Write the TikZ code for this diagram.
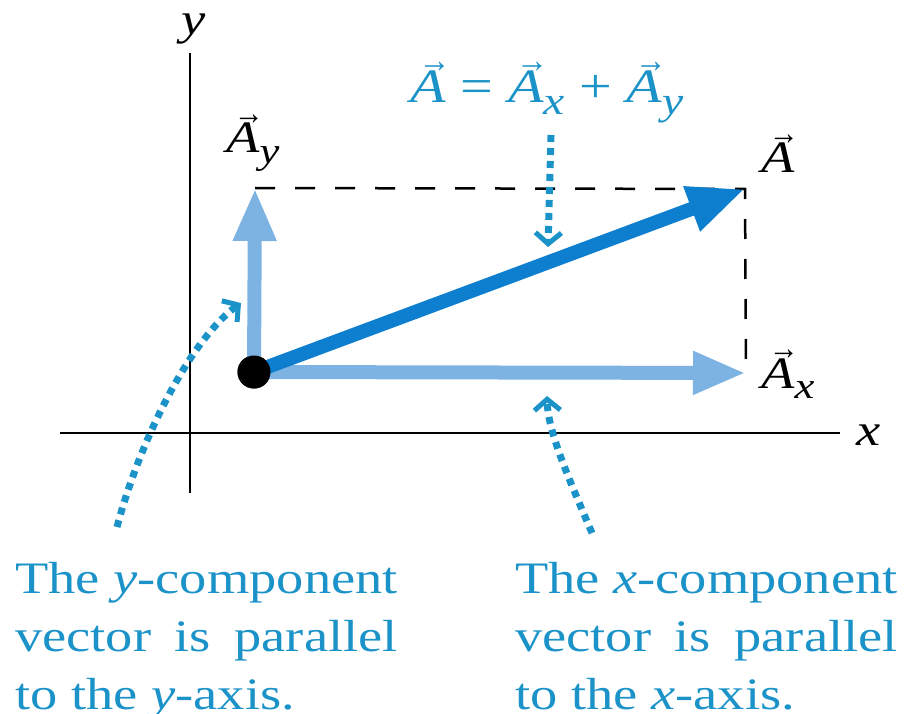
\documentclass[tikz,border=0pt]{standalone}
\usepackage{graphicx}
\usepackage{fontspec}
\setmainfont[FakeStretch=1.21]{Liberation Serif}
\usetikzlibrary{arrows.meta}
\definecolor{lblue}{HTML}{7DB3E3}
\definecolor{dblue}{HTML}{0E7FCF}
\definecolor{tblue}{HTML}{1B93C9}
\newcommand\vv[1]{\makebox[0pt][l]{\hspace{0.17em}\raisebox{0.64em}{\scalebox{0.55}[0.75]{→}}}\textit{#1}}
\newcommand\sub[1]{\raisebox{-0.24em}{\scalebox{0.82}{\textit{#1}}}}
\newcommand\noteblock[3]{\setbox0\hbox{#1}\vtop{\hbox{\copy0}\hbox to\wd0{#2}\hbox{#3}}}
\begin{document}
\begin{tikzpicture}[x=1pt,y=-1pt,
  font=\fontsize{45}{58}\selectfont,
  axisline/.style={line width=2.5pt},
  dashbox/.style={line width=2.5pt, dash pattern=on 20pt off 20pt},
  comp/.style={lblue, line width=14pt, -{Triangle[length=53pt,width=40pt]}},
  res/.style={dblue, line width=14pt, -{Triangle[length=57pt,width=44pt]}},
  pointer/.style={tblue, line width=7pt, dash pattern=on 7pt off 6pt,
    -{Straight Barb[length=11pt,width=26pt,line width=5pt]}},
  lbl/.style={anchor=base west, inner sep=0pt},
  note/.style={tblue, anchor=base west, inner sep=0pt}]
\useasboundingbox (0,0) rectangle (910,714);
% axes
\coordinate (ytop) at (190,53);
\coordinate (ybot) at (190,493);
\coordinate (xl) at (60,433);
\coordinate (xr) at (840,433);
\draw[axisline] (ytop) -- (ybot);
\draw[axisline] (xl) -- (xr);
\node[lbl] (ylab) at (181,35) {\textit{y}};
\node[lbl] (xlab) at (856,445) {\textit{x}};
% tips
\coordinate (Ayt) at (255,188);
\coordinate (At) at (745,189);
\coordinate (Axt) at (746,373);
\draw[dashbox] (Ayt) -- (At) -- (Axt);
% origin
\node[circle, fill=black, minimum size=33pt, inner sep=0pt] (O) at (254,372) {};
\draw[comp] (O.center) -- (Axt);
\draw[comp] (O.center) -- (Ayt);
\draw[res] (O.center) -- (At);
\node[circle, fill=black, minimum size=33pt, inner sep=0pt] (O2) at (O) {};
% labels
\node[lbl] (lAy) at (226,153) {\vv{A}\sub{y}};
\node[lbl] (lA) at (761,173) {\vv{A}};
\node[lbl] (lAx) at (761,388) {\vv{A}\sub{x}};
\node[tblue, anchor=base, inner sep=0pt, font=\fontsize{48}{58}\selectfont] (eq) at (547,103) {\vv{A} = \vv{A}\sub{x} + \vv{A}\sub{y}};
% pointers
\coordinate (p1s) at (551,135);
\coordinate (p1e) at (548,247);
\draw[pointer] (p1s) -- (p1e);
\coordinate (p2s) at (117,527);
\coordinate (p2e) at (241,303);
\draw[pointer] (p2s) .. controls (140,440) and (190,340) .. (p2e);
\coordinate (p3s) at (592,533);
\coordinate (p3e) at (547,396);
\draw[pointer] (p3s) .. controls (565,470) and (548,430) .. (p3e);
% notes
\node[note] (ynote) at (15,593) {\noteblock{The \textit{y}-component}{vector\hfil is\hfil parallel}{to the \textit{y}-axis.}};
\node[note] (xnote) at (515,593) {\noteblock{The \textit{x}-component}{vector\hfil is\hfil parallel}{to the \textit{x}-axis.}};
\end{tikzpicture}
\end{document}
